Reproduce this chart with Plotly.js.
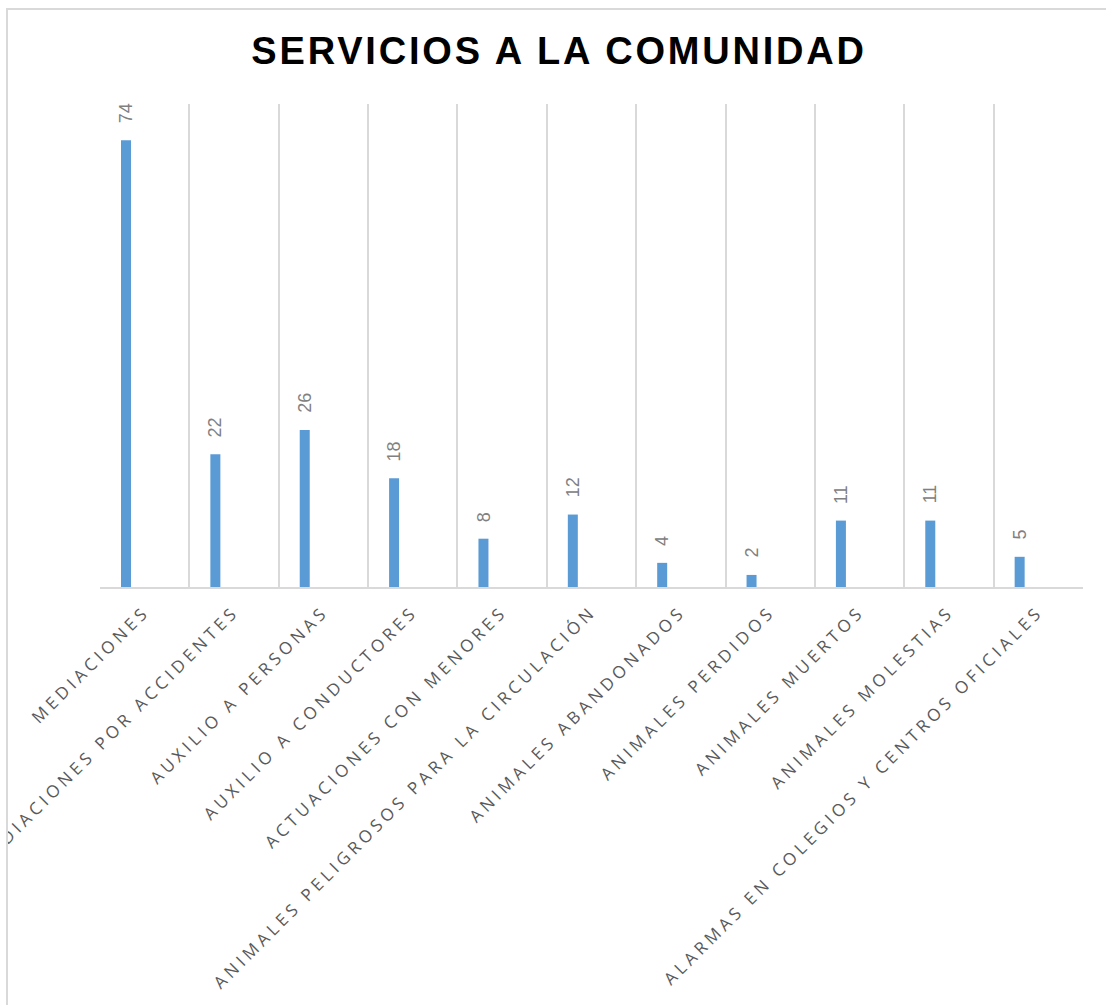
<!DOCTYPE html>
<html>
<head>
<meta charset="utf-8">
<script src="https://cdn.plot.ly/plotly-3.0.1.min.js"></script>
<style>
  html, body { margin: 0; padding: 0; background: #ffffff; }
  #frame {
    position: absolute; left: 6px; top: 8px;
    width: 1100px; height: 997px;
    border-left: 2px solid #d9d9d9; border-top: 2px solid #d9d9d9;
    overflow: hidden; background: #ffffff;
  }
  #chart { position: absolute; left: 0; top: 0; width: 1098px; height: 995px; }
  #chart .xtick text { letter-spacing: 4.1px; }
  #chart .gtitle { letter-spacing: 2.8px; }
</style>
</head>
<body>
<div id="frame"><div id="chart"></div></div>
<script>
const categories = [
  "MEDIACIONES",
  "MEDIACIONES POR ACCIDENTES",
  "AUXILIO A PERSONAS",
  "AUXILIO A CONDUCTORES",
  "ACTUACIONES CON MENORES",
  "ANIMALES PELIGROSOS PARA LA CIRCULACIÓN",
  "ANIMALES ABANDONADOS",
  "ANIMALES PERDIDOS",
  "ANIMALES MUERTOS",
  "ANIMALES MOLESTIAS",
  "ALARMAS EN COLEGIOS Y CENTROS OFICIALES"
];
const values = [74, 22, 26, 18, 8, 12, 4, 2, 11, 11, 5];
const chartTitle = "SERVICIOS A LA COMUNIDAD";

const barTrace = {
  type: "bar",
  x: categories,
  y: values,
  marker: { color: "#5B9BD5" },
  width: 0.112,
  offset: -0.265,
  hoverinfo: "x+y"
};

const labelAnnotations = categories.map((c, i) => ({
  x: c, y: values[i], xref: "x", yref: "y",
  text: String(values[i]),
  textangle: -90,
  showarrow: false,
  xanchor: "center", yanchor: "bottom",
  xshift: -18.7, yshift: 15,
  font: { family: "Arial, Liberation Sans, sans-serif", size: 18, color: "#808080" }
}));

const layout = {
  width: 1098, height: 995,
  margin: { l: 92, r: 23, t: 94, b: 418 },
  paper_bgcolor: "rgba(0,0,0,0)",
  plot_bgcolor: "#ffffff",
  showlegend: false,
  title: {
    text: "<b>" + chartTitle + "</b>",
    font: { family: "Arial, Liberation Sans, sans-serif", size: 38, color: "#000000" },
    x: 0.467, xref: "paper", xanchor: "center",
    y: 1 - 41 / 995, yref: "container", yanchor: "middle"
  },
  xaxis: {
    type: "category",
    range: [-0.5, 10.5],
    tickson: "boundaries",
    showgrid: true, gridcolor: "#d9d9d9", gridwidth: 2,
    showline: true, linecolor: "#d9d9d9", linewidth: 2,
    ticks: "",
    tickangle: -45,
    ticklabelstandoff: 6,
    tickfont: { family: "Open Sans, sans-serif", size: 17, color: "#595959" },
    automargin: false,
    zeroline: false
  },
  yaxis: {
    range: [0, 80],
    showgrid: false, zeroline: false, showline: false,
    showticklabels: false, ticks: "",
    automargin: false
  },
  annotations: labelAnnotations
};

Plotly.newPlot("chart", [barTrace], layout, { displayModeBar: false, staticPlot: true });
</script>
</body>
</html>
